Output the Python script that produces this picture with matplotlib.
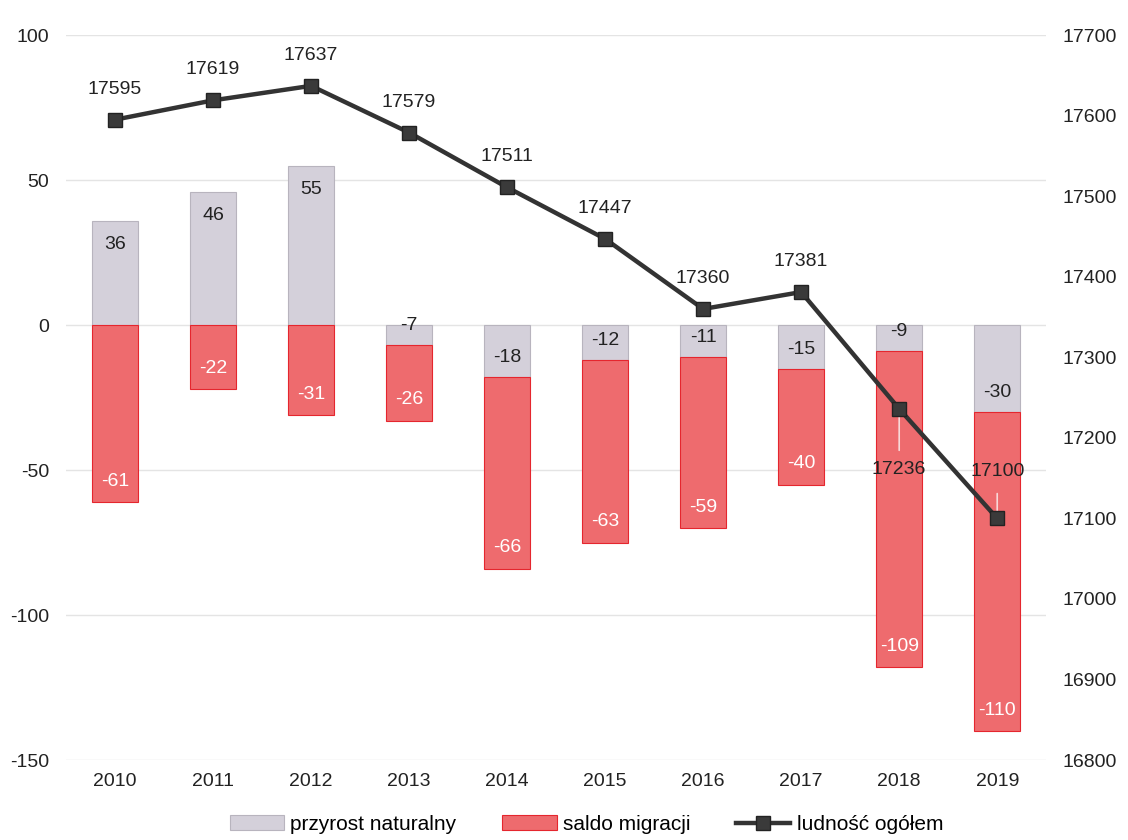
import matplotlib
matplotlib.use("Agg")
import matplotlib.pyplot as plt
import numpy as np

years = ["2010", "2011", "2012", "2013", "2014", "2015", "2016", "2017", "2018", "2019"]
przyrost = [36, 46, 55, -7, -18, -12, -11, -15, -9, -30]
saldo = [-61, -22, -31, -26, -66, -63, -59, -40, -109, -110]
ludnosc = [17595, 17619, 17637, 17579, 17511, 17447, 17360, 17381, 17236, 17100]

plt.rcParams['font.family'] = ['Liberation Sans', 'DejaVu Sans']
plt.rcParams['axes.unicode_minus'] = False

GREY = "#D4D0DA"
GREY_EDGE = "#B8B4BE"
RED = "#EE6B6E"
RED_EDGE = "#E5262E"
LINE = "#333333"

fig = plt.figure(figsize=(11.28, 8.4), dpi=100)
ax = fig.add_axes([0.0585, 0.0952, 0.869, 0.863])
ax2 = ax.twinx()

x = np.arange(len(years))
w = 0.47
g = np.array(przyrost, dtype=float)
s = np.array(saldo, dtype=float)
red_bottom = np.where(g < 0, g, 0)

ax.bar(x, g, w, color=GREY, edgecolor=GREY_EDGE, linewidth=0.8, zorder=2, label="przyrost naturalny")
ax.bar(x, s, w, bottom=red_bottom, color=RED, edgecolor=RED_EDGE, linewidth=0.8, zorder=2, label="saldo migracji")

ax.set_xlim(-0.5, len(years) - 0.5)
ax.set_ylim(-150, 100)
ax.set_yticks([-150, -100, -50, 0, 50, 100])
ax.set_xticks(x)
ax.set_xticklabels(years)
for yv in [-150, -100, -50, 0, 50, 100]:
    ax.axhline(yv, color="#E4E4E4", linewidth=1.0, zorder=1)
for sp in ax.spines.values():
    sp.set_visible(False)
for sp in ax2.spines.values():
    sp.set_visible(False)
ax.tick_params(axis='both', length=0, labelsize=14, colors="#222222")
ax.tick_params(axis='x', pad=9)
ax.tick_params(axis='y', pad=12)

for i in range(len(years)):
    gv = g[i]
    if gv > 0:
        ax.annotate(f"{przyrost[i]}", (x[i], gv), xytext=(0, -17), textcoords="offset points",
                    ha="center", va="center", fontsize=14, color="#222222", zorder=5)
    else:
        ax.annotate(f"{przyrost[i]}", (x[i], gv), xytext=(0, 14), textcoords="offset points",
                    ha="center", va="center", fontsize=14, color="#222222", zorder=5)
    end = red_bottom[i] + s[i]
    ax.annotate(f"{saldo[i]}", (x[i], end), xytext=(0, 15), textcoords="offset points",
                ha="center", va="center", fontsize=14, color="white", zorder=5)

ax2.set_ylim(16800, 17700)
ax2.set_yticks(np.arange(16800, 17701, 100))
ax2.tick_params(axis='y', length=0, labelsize=14, colors="#222222", pad=12)
ax2.plot(x, ludnosc, color=LINE, linewidth=3.2, marker="s", markersize=10,
         markerfacecolor="#3A3A3A", markeredgecolor="#222222", zorder=4, label="ludność ogółem")

for i, v in enumerate(ludnosc):
    if i == 8:
        ax2.annotate(f"{v}", (x[i], v), xytext=(0, -44), textcoords="offset points",
                     ha="center", va="center", fontsize=14, color="#222222",
                     arrowprops=dict(arrowstyle="-", color="#F8D8D8", lw=1.2, shrinkA=6, shrinkB=4))
    elif i == 9:
        ax2.annotate(f"{v}", (x[i], v), xytext=(0, 34), textcoords="offset points",
                     ha="center", va="center", fontsize=14, color="#222222",
                     arrowprops=dict(arrowstyle="-", color="#F8D8D8", lw=1.2, shrinkA=8, shrinkB=2))
    else:
        ax2.annotate(f"{v}", (x[i], v), xytext=(0, 22), textcoords="offset points",
                     ha="center", va="center", fontsize=14, color="#222222")

h1, l1 = ax.get_legend_handles_labels()
h2, l2 = ax2.get_legend_handles_labels()
fig.legend(h1 + h2, l1 + l2, loc="lower center", bbox_to_anchor=(0.52, -0.015), ncol=3,
           frameon=False, fontsize=15, handlelength=2.6, handletextpad=0.3, columnspacing=2.2)

fig.savefig("out.png", dpi=100)
